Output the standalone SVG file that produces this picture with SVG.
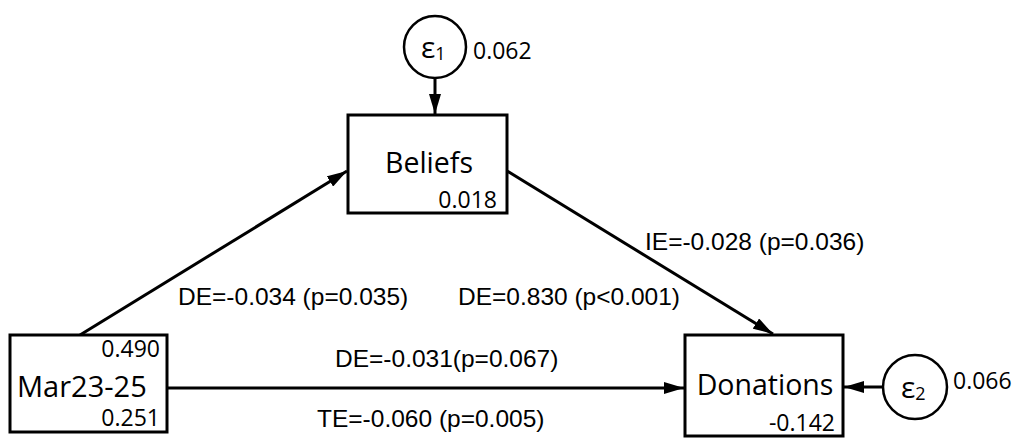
<svg xmlns="http://www.w3.org/2000/svg" width="1021" height="439" viewBox="0 0 1021 439">
<style>
.box{fill:#fff;stroke:#000;stroke-width:3}
.circ{fill:#fff;stroke:#000;stroke-width:2.5}
.edge{fill:none;stroke:#000;stroke-width:3}
.name{font-family:"Open Sans","Noto Sans",sans-serif;font-size:28.5px;fill:#000}
.num{font-family:"Open Sans","Noto Sans",sans-serif;font-size:23px;fill:#000}
.lab{font-family:"Liberation Sans",Arial,sans-serif;font-size:24.5px;fill:#000}
.eps{font-family:"Open Sans","Noto Sans",sans-serif;font-size:30px;fill:#000}
.sub{font-family:"Open Sans","Noto Sans",sans-serif;font-size:18px;fill:#000}
</style>
<defs>
<marker id="ah" viewBox="0 0 20 12" refX="20" refY="6" markerWidth="20" markerHeight="12" markerUnits="userSpaceOnUse" orient="auto">
<path d="M0,0 L20,6 L0,12 Z" fill="#000"/>
</marker>
</defs>
<g id="connectors">
<line class="edge" x1="435" y1="79" x2="435" y2="114" marker-end="url(#ah)"/>
<line class="edge" x1="80" y1="335" x2="347" y2="171" marker-end="url(#ah)"/>
<line class="edge" x1="507" y1="171" x2="773" y2="334" marker-end="url(#ah)"/>
<line class="edge" x1="167" y1="388" x2="684" y2="388" marker-end="url(#ah)"/>
<line class="edge" x1="883" y1="387" x2="844" y2="387" marker-end="url(#ah)"/>
<text class="lab" x="178" y="305">DE=-0.034 (p=0.035)</text>
<text class="lab" x="458" y="305">DE=0.830 (p&lt;0.001)</text>
<text class="lab" x="645" y="250">IE=-0.028 (p=0.036)</text>
<text class="lab" x="335" y="367">DE=-0.031(p=0.067)</text>
<text class="lab" x="317" y="427">TE=-0.060 (p=0.005)</text>
</g>
<g id="e1">
<circle class="circ" cx="435" cy="47" r="31"/>
<text class="eps" x="421" y="58">ε<tspan class="sub" dy="2">1</tspan></text>
<text class="num" x="473" y="59">0.062</text>
</g>
<g id="beliefs">
<rect class="box" x="348" y="115" width="159" height="98"/>
<text class="name" x="429" y="173" text-anchor="middle">Beliefs</text>
<text class="num" x="497" y="208" text-anchor="end">0.018</text>
</g>
<g id="mar">
<rect class="box" x="10" y="335" width="157" height="97"/>
<text class="name" x="17" y="397" style="font-size:29px">Mar23-25</text>
<text class="num" x="160" y="357" text-anchor="end">0.490</text>
<text class="num" x="160" y="426" text-anchor="end">0.251</text>
</g>
<g id="donations">
<rect class="box" x="685" y="335" width="158" height="101"/>
<text class="name" x="765" y="395" text-anchor="middle">Donations</text>
<text class="num" x="835" y="431" text-anchor="end">-0.142</text>
</g>
<g id="e2">
<circle class="circ" cx="915" cy="387" r="32"/>
<text class="eps" x="901" y="398">ε<tspan class="sub" dy="2">2</tspan></text>
<text class="num" x="953" y="389">0.066</text>
</g>
</svg>
